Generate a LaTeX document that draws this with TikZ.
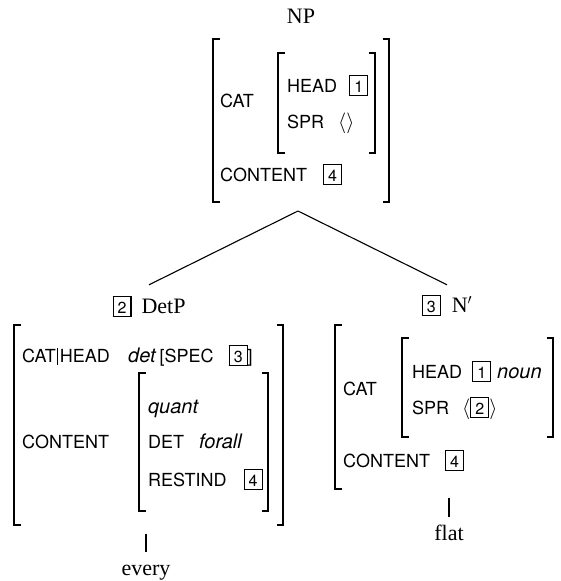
\documentclass[tikz,border=0pt]{standalone}
\usepackage{fontspec}
\setmainfont{Liberation Serif}
\setsansfont{TeX Gyre Heros}
\usetikzlibrary{positioning}
\usepackage{amsmath}

% boxed tag and italic value
\newcommand{\tg}[1]{{\setlength{\fboxsep}{0pt}\setlength{\fboxrule}{1.1pt}%
  \fbox{\makebox[16.8pt]{\rule[-2.9pt]{0pt}{18.8pt}\fontsize{16}{16}\selectfont\sffamily #1}}}}
\newcommand{\val}[1]{{\fontsize{20}{20}\selectfont\sffamily\itshape #1}}
% square brackets round an empty avm node
\newcommand{\avmbrackets}[1]{%
  \draw[brk] ([xshift=6.5pt]#1.north west) -| (#1.south west) -- ++(6.5pt,0);
  \draw[brk] ([xshift=-6.5pt]#1.north east) -| (#1.south east) -- ++(-6.5pt,0);}
\newcommand{\avmleft}[1]{%
  \draw[brk] ([xshift=6.5pt]#1.north west) -| (#1.south west) -- ++(6.5pt,0);}

\tikzset{
  tree/.style={font=\fontsize{22}{24}\selectfont, inner sep=0pt,
               text height=17pt, text depth=4pt, anchor=base},
  feat/.style={font=\fontsize{18}{20}\selectfont\sffamily, inner sep=0pt, anchor=base west},
  avm/.style={inner sep=0pt, outer sep=0pt},
  brk/.style={line width=1.6pt},
  branch/.style={line width=1.1pt},
  stem/.style={line width=1.1pt, shorten <=8.5pt, shorten >=6pt},
}

\begin{document}
\begin{tikzpicture}[x=1pt, y=-1pt]
        \useasboundingbox (0,0) rectangle (561,581);
        % mother
        \node[tree] (np) at (301,23) {NP};
        \node[avm, minimum width=176pt, minimum height=163pt] (np-avm) at (301,120.5) {};
        \node[avm, minimum width=97pt, minimum height=100pt] (np-cat) at (326.5,103) {};
        \node[feat] (np-catl) at (220,107) {CAT};
        \node[feat] (np-head) at (287,92) {HEAD\hspace{12pt}\tg{1}};
        \node[feat] (np-spr) at (287,128) {SPR\hspace{14pt}{\fontsize{20}{20}\selectfont$\langle\rangle$}};
        \node[feat] (np-cont) at (220,181) {CONTENT\hspace{16pt}\tg{4}};
        \avmbrackets{np-avm}
        \avmbrackets{np-cat}
        \coordinate (apex) at (298,211);

        % specifier daughter
        \node[tree] (detp) at (149,313) {\tg{2}\hspace{10pt}DetP};
        \node[avm, minimum width=269pt, minimum height=200pt] (detp-avm) at (148.5,425) {};
        \node[avm, minimum width=129pt, minimum height=138pt] (detp-cont) at (203.5,442) {};
        \node[feat] (detp-head) at (22,362) {CAT\kern1.5pt\rule[-3pt]{1pt}{17pt}\kern1.5pt HEAD};
        \node[feat] (detp-spec) at (128,362) {\val{det}\hspace{4pt}[SPEC\hspace{15pt}\tg{3}]};
        \node[feat] (detp-quant) at (148,413) {\val{quant}};
        \node[feat] (detp-det) at (148,448) {DET\hspace{15pt}\val{forall}};
        \node[feat] (detp-contl) at (22,448) {CONTENT};
        \node[feat] (detp-rest) at (148,486) {RESTIND\hspace{17pt}\tg{4}};
        \avmbrackets{detp-avm}
        \avmbrackets{detp-cont}
        \node[tree] (every) at (146,575) {every};

        % head daughter
        \node[tree] (nbar) at (447,312) {\tg{3}\hspace{11pt}N$'$};
        \node[avm, minimum width=20pt, minimum height=164pt] (nbar-avm) at (345,407) {};
        \node[avm, minimum width=151pt, minimum height=99pt] (nbar-cat) at (477.5,387.5) {};
        \node[feat] (nbar-catl) at (343,395) {CAT};
        \node[feat] (nbar-head) at (412,378) {HEAD\hspace{10pt}\tg{1}\hspace{6pt}\val{noun}};
        \node[feat] (nbar-spr) at (412,414) {SPR\hspace{13pt}{\fontsize{20}{20}\selectfont$\langle$}\tg{2}{\fontsize{20}{20}\selectfont$\rangle$}};
        \node[feat] (nbar-cont) at (343,467) {CONTENT\hspace{15pt}\tg{4}};
        \avmleft{nbar-avm}
        \avmbrackets{nbar-cat}
        \node[tree] (flat) at (449,540) {flat};

        \draw[branch] (apex) -- ([yshift=11pt]detp.north);
        \draw[branch] (apex) -- ([yshift=10pt]nbar.north);
        \draw[stem] (every.north |- detp-avm.south) -- (every.north);
        \draw[stem] (flat.north |- nbar-avm.south) -- (flat.north);
      \end{tikzpicture}
\end{document}
